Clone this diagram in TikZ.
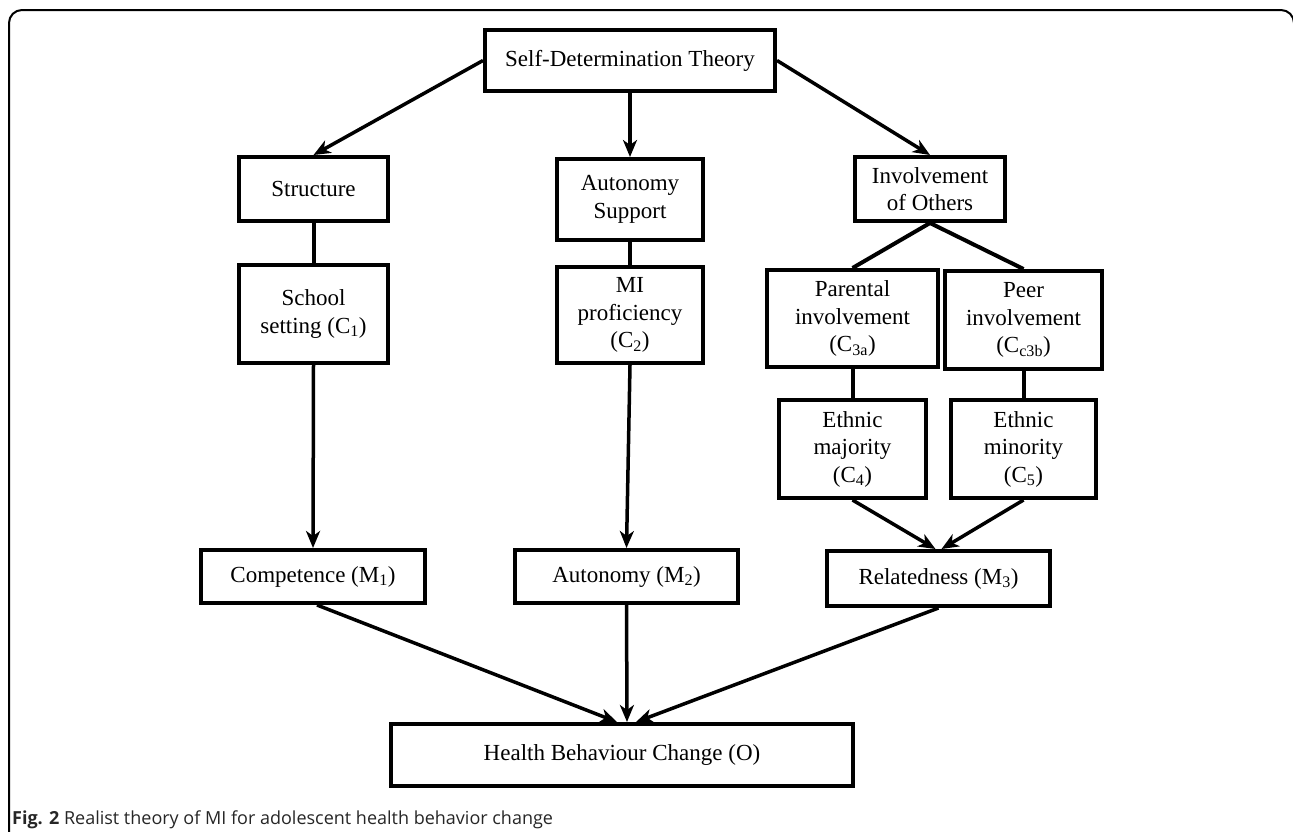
\documentclass[tikz,border=0pt]{standalone}
\usepackage{fontspec}
\setmainfont{Liberation Serif}
\newfontfamily\capfont{Open Sans}
\usetikzlibrary{arrows.meta,calc}
\tikzset{
  boxnode/.style={draw, line width=4pt, align=center, inner sep=0pt,
    font=\fontsize{23}{27.5}\selectfont},
  link/.style={line width=4pt},
  arr/.style={line width=3.5pt, -{Stealth[length=17pt,width=14pt,inset=5pt]}},
  frameline/.style={line width=2pt, rounded corners=13pt}
}
\begin{document}
\begin{tikzpicture}[x=1pt,y=-1pt]
\useasboundingbox (0,0) rectangle (1293,831);
\draw[frameline] (9,845) -- (9,10) -- (1294,10) -- (1294,845);

\node[boxnode, minimum width=290pt, minimum height=61pt] (sdt) at (630,60.5) {Self-Determination Theory};
\node[boxnode, minimum width=149pt, minimum height=64pt] (struct) at (313.5,189) {Structure};
\node[boxnode, minimum width=146pt, minimum height=81pt] (autsup) at (630,199.5) {Autonomy\\Support};
\node[boxnode, minimum width=150pt, minimum height=64pt] (invol) at (930,189) {Involvement\\of Others};
\node[boxnode, minimum width=149pt, minimum height=98pt] (school) at (313.5,314) {School\\setting (C\textsubscript{1})};
\node[boxnode, minimum width=146pt, minimum height=96pt] (mi) at (630,315) {MI\\proficiency\\(C\textsubscript{2})};
\node[boxnode, minimum width=171pt, minimum height=97pt] (parent) at (852.5,318.5) {Parental\\involvement\\(C\textsubscript{3a})};
\node[boxnode, minimum width=157pt, minimum height=98pt] (peer) at (1023.5,320) {Peer\\involvement\\(C\textsubscript{c3b})};
\node[boxnode, minimum width=147pt, minimum height=98pt] (ethmaj) at (852.5,449) {Ethnic\\majority\\(C\textsubscript{4})};
\node[boxnode, minimum width=145pt, minimum height=98pt] (ethmin) at (1023.5,449) {Ethnic\\minority\\(C\textsubscript{5})};
\node[boxnode, minimum width=224pt, minimum height=53pt] (comp) at (313,576.5) {Competence (M\textsubscript{1})};
\node[boxnode, minimum width=223pt, minimum height=53pt] (aut) at (626.5,576.5) {Autonomy (M\textsubscript{2})};
\node[boxnode, minimum width=223pt, minimum height=55pt] (rel) at (938.5,578.5) {Relatedness (M\textsubscript{3})};
\node[boxnode, minimum width=462pt, minimum height=62pt] (hbc) at (622,755) {Health Behaviour Change (O)};

\draw[arr] (sdt.west) -- (struct.north);
\draw[arr] (sdt.south) -- (autsup.north);
\draw[arr] (sdt.east) -- (invol.north);
\draw[link] (struct.south) -- (school.north);
\draw[link] (autsup.south) -- (mi.north);
\draw[link] (invol.south) -- (parent.north);
\draw[link] (invol.south) -- (peer.north);
\draw[link] (parent.south) -- (ethmaj.north);
\draw[link] (peer.south) -- (ethmin.north);
\draw[arr] (school.south) -- (comp.north);
\draw[arr] (mi.south) -- (aut.north);
\draw[arr] (ethmaj.south) -- ([xshift=-3pt]rel.north);
\draw[arr] (ethmin.south) -- ([xshift=3pt]rel.north);
\draw[arr] ([xshift=4pt]comp.south) -- ([xshift=-5pt]hbc.north);
\draw[arr] (aut.south) -- ([xshift=5pt]hbc.north);
\draw[arr] (rel.south) -- ([xshift=14pt]hbc.north);

\node[anchor=base west, inner sep=0pt, text=black!85, font=\capfont\fontsize{18}{20}\selectfont] (cap) at (12,824)
  {{\bfseries Fig. 2} Realist theory of MI for adolescent health behavior change};
\end{tikzpicture}
\end{document}
